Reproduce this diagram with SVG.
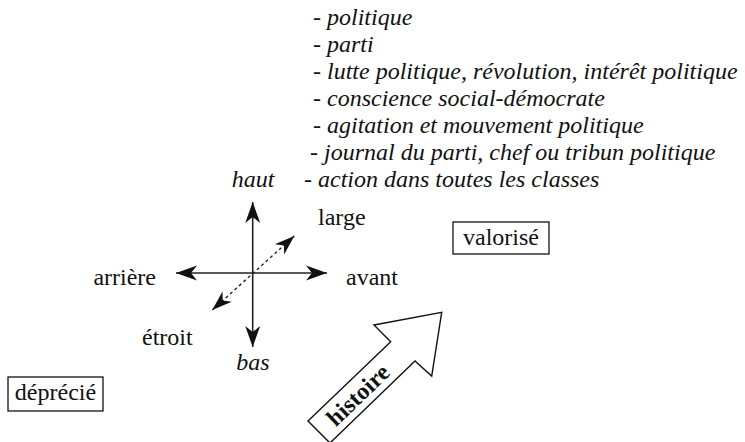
<svg xmlns="http://www.w3.org/2000/svg" width="745" height="442" viewBox="0 0 745 442">
<style>
.t{font-family:"Liberation Serif","Times New Roman",serif;font-size:24px;fill:#111}
.it{font-style:italic}
.box{fill:#fff;stroke:#111;stroke-width:1.3}
.ax{stroke:#222;stroke-width:1.6;fill:none}
.dash{stroke:#222;stroke-width:1.4;stroke-dasharray:3 3;fill:none}
</style>
<defs>
<marker id="ah" markerUnits="userSpaceOnUse" orient="auto-start-reverse" markerWidth="30" markerHeight="30" refX="0" refY="0" viewBox="-25 -12 30 24" style="overflow:visible">
<path d="M0,0 L-21,-7.5 L-15,0 L-21,7.5 Z" fill="#111"/>
</marker>
<marker id="ahs" markerUnits="userSpaceOnUse" orient="auto-start-reverse" markerWidth="30" markerHeight="30" refX="0" refY="0" viewBox="-25 -12 30 24" style="overflow:visible">
<path d="M0,0 L-20,-7 L-14,0 L-20,7 Z" fill="#111"/>
</marker>
</defs>
<g id="list">
<text class="t it" x="313" y="25">- politique</text>
<text class="t it" x="313" y="52">- parti</text>
<text class="t it" x="313" y="79">- lutte politique, révolution, intérêt politique</text>
<text class="t it" x="313" y="106">- conscience social-démocrate</text>
<text class="t it" x="313" y="133">- agitation et mouvement politique</text>
<text class="t it" x="310" y="160">- journal du parti, chef ou tribun politique</text>
<text class="t it" x="304" y="187">- action dans toutes les classes</text>
</g>
<g id="connectors">
<line class="ax" x1="252.7" y1="273" x2="252.7" y2="202" marker-end="url(#ah)"/>
<line class="ax" x1="252.7" y1="273" x2="252.7" y2="347" marker-end="url(#ah)"/>
<line class="ax" x1="252.7" y1="273" x2="176" y2="273" marker-end="url(#ah)"/>
<line class="ax" x1="252.7" y1="273" x2="327" y2="273" marker-end="url(#ah)"/>
<line class="dash" x1="212.3" y1="310" x2="294.3" y2="236" marker-start="url(#ahs)" marker-end="url(#ahs)"/>
</g>
<g id="haut"><text class="t it" x="253" y="187" text-anchor="middle">haut</text></g>
<g id="bas"><text class="t it" x="253" y="370" text-anchor="middle">bas</text></g>
<g id="large"><text class="t" x="318" y="225">large</text></g>
<g id="avant"><text class="t" x="346" y="285">avant</text></g>
<g id="arriere"><text class="t" x="156" y="285" text-anchor="end">arrière</text></g>
<g id="etroit"><text class="t" x="142" y="345">étroit</text></g>
<g id="valorise">
<rect class="box" x="453" y="222" width="96" height="32"/>
<text class="t" x="501" y="245" text-anchor="middle">valorisé</text>
</g>
<g id="deprecie">
<rect class="box" x="8" y="377" width="95" height="34"/>
<text class="t" x="55.5" y="400" text-anchor="middle">déprécié</text>
</g>
<g id="histoire">
<path d="M308,421 L390.7,341.7 L374,325 L441.7,312.3 L431.7,376 L415,361 L330,443 Z" fill="#fff" stroke="#111" stroke-width="1.4" stroke-linejoin="miter"/>
<text class="t" transform="translate(358,395) rotate(-43.8)" x="0" y="8" text-anchor="middle" font-weight="bold">histoire</text>
</g>
</svg>
